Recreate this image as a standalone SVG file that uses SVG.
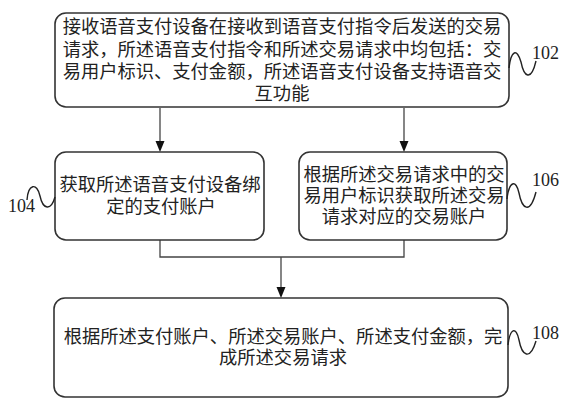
<svg xmlns="http://www.w3.org/2000/svg" width="570" height="408" viewBox="0 0 570 408">
<style>
.box{fill:#fff;stroke:#333;stroke-width:1.6}
.t{font-family:"Liberation Serif","Noto Sans CJK SC",serif;font-size:18.3px;fill:#222;text-anchor:middle}
.lbl{font-family:"Liberation Serif","Noto Sans CJK SC",serif;font-size:18px;fill:#222}
.sq{fill:none;stroke:#222;stroke-width:1.4}
.c{fill:none;stroke:#444;stroke-width:1.3}
.ah{fill:#111}
</style>
<rect width="570" height="408" fill="#fff"/>
<g id="connectors">
<path class="c" d="M160,108 V141"/>
<path class="ah" d="M155.5,141 L164.5,141 L160,152 Z"/>
<path class="c" d="M404,108 V141"/>
<path class="ah" d="M399.5,141 L408.5,141 L404,152 Z"/>
<path class="c" d="M160,240 V257 H404 V240"/>
<path class="c" d="M281,257 V287"/>
<path class="ah" d="M276.5,287 L285.5,287 L281,298 Z"/>
</g>
<g id="node102">
<rect class="box" x="55" y="13" width="454" height="94" rx="11"/>
<text class="t" x="282" y="33">接收语音支付设备在接收到语音支付指令后发送的交易</text>
<text class="t" x="282" y="56">请求，所述语音支付指令和所述交易请求中均包括：交</text>
<text class="t" x="282" y="78">易用户标识、支付金额，所述语音支付设备支持语音交</text>
<text class="t" x="282" y="100">互功能</text>
<path class="sq" d="M509,68 C511,50 517,48 521,62 C524,77 531,82 536,61"/>
<text class="lbl" x="532" y="59">102</text>
</g>
<g id="node104">
<rect class="box" x="55" y="152" width="209" height="88" rx="11"/>
<text class="t" x="160" y="191">获取所述语音支付设备绑</text>
<text class="t" x="161" y="213">定的支付账户</text>
<path class="sq" d="M27,200 C28,184 37,182 40,196 C43,210 51,211 55,197"/>
<text class="lbl" x="8" y="212">104</text>
</g>
<g id="node106">
<rect class="box" x="299" y="152" width="208" height="88" rx="11"/>
<text class="t" x="404" y="181">根据所述交易请求中的交</text>
<text class="t" x="404" y="202">易用户标识获取所述交易</text>
<text class="t" x="404" y="223">请求对应的交易账户</text>
<path class="sq" d="M507,199 C509,181 516,179 519,193 C522,209 530,215 536,192"/>
<text class="lbl" x="532" y="186">106</text>
</g>
<g id="node108">
<rect class="box" x="54" y="298" width="454" height="99" rx="11"/>
<text class="t" x="283" y="343">根据所述支付账户、所述交易账户、所述支付金额，完</text>
<text class="t" x="283" y="364">成所述交易请求</text>
<path class="sq" d="M508,345 C510,328 516,326 519,340 C522,356 530,361 536,341"/>
<text class="lbl" x="532" y="339">108</text>
</g>
</svg>
